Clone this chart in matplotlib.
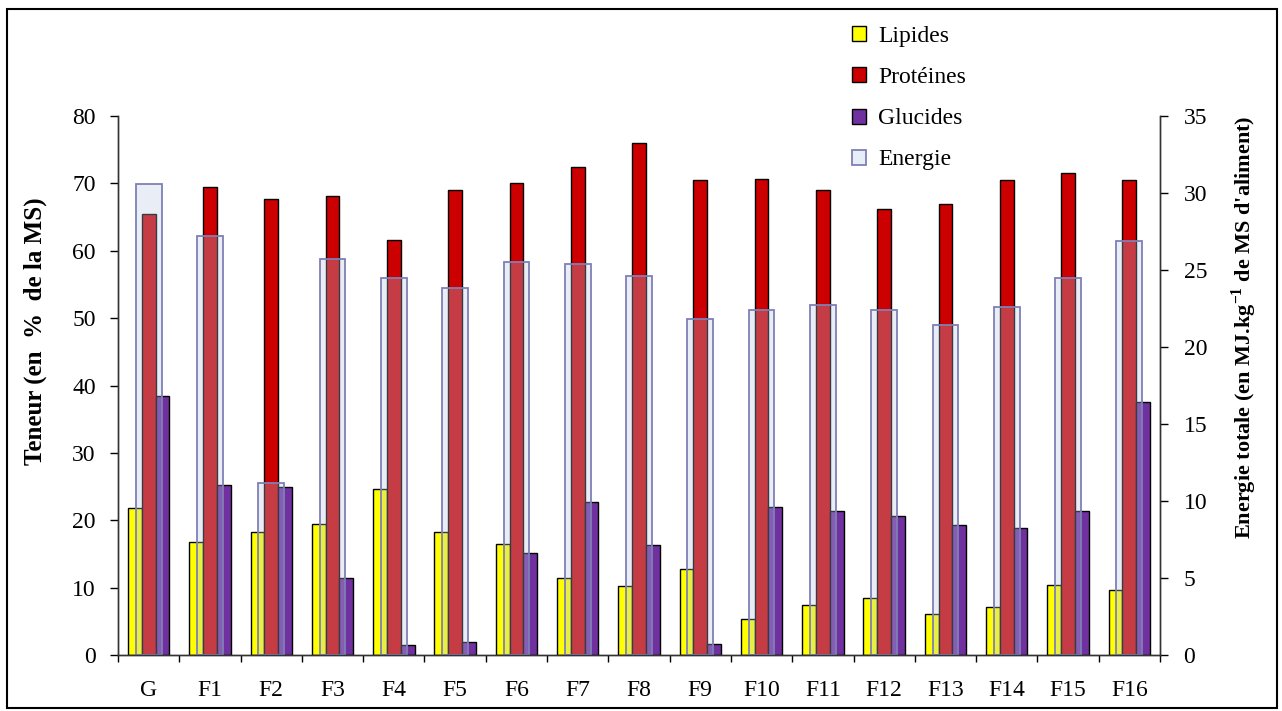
import numpy as np
import matplotlib
matplotlib.use("Agg")
import matplotlib.pyplot as plt
from matplotlib.patches import Rectangle, Patch

plt.rcParams['font.family'] = ['Liberation Serif', 'DejaVu Serif']
plt.rcParams['mathtext.fontset'] = 'custom'
plt.rcParams['mathtext.rm'] = 'Liberation Serif'
plt.rcParams['mathtext.bf'] = 'Liberation Serif:bold'

categories = ['G', 'F1', 'F2', 'F3', 'F4', 'F5', 'F6', 'F7', 'F8',
              'F9', 'F10', 'F11', 'F12', 'F13', 'F14', 'F15', 'F16']
lipides = [21.8, 16.7, 18.2, 19.5, 24.6, 18.2, 16.5, 11.5, 10.2,
           12.7, 5.3, 7.4, 8.4, 6.1, 7.1, 10.4, 9.7]
proteines = [65.4, 69.5, 67.7, 68.2, 61.6, 69.0, 70.1, 72.5, 76.0,
             70.5, 70.7, 69.0, 66.2, 66.9, 70.5, 71.6, 70.5]
glucides = [38.4, 25.3, 24.9, 11.5, 1.5, 2.0, 15.1, 22.7, 16.4,
            1.7, 22.0, 21.4, 20.6, 19.3, 18.9, 21.4, 37.5]
energie = [30.6, 27.2, 11.2, 25.7, 24.5, 23.8, 25.5, 25.4, 24.6,
           21.8, 22.4, 22.75, 22.4, 21.4, 22.6, 24.5, 26.9]

x = np.arange(len(categories))
w = 0.225
fs = 17

fig = plt.figure(figsize=(12.82, 7.11), dpi=100)
ax = fig.add_axes([118 / 1282, 56 / 711, (1160 - 118) / 1282, (655 - 116) / 711])

c_lip, c_pro, c_glu = '#FFFF00', '#CC0000', '#7030A0'
ax.bar(x - w, lipides, w, color=c_lip, edgecolor='black', linewidth=1)
ax.bar(x, proteines, w, color=c_pro, edgecolor='black', linewidth=1)
ax.bar(x + w, glucides, w, color=c_glu, edgecolor='black', linewidth=1)

ax.set_xlim(-0.5, len(categories) - 0.5)
ax.set_ylim(0, 80)
ax.set_yticks(range(0, 81, 10))
ax.set_xticks(x)
ax.set_xticklabels(categories)
ax.set_xticks(np.arange(-0.5, len(categories)), minor=True)
ax.tick_params(axis='x', which='major', length=0, pad=18, labelsize=fs)
ax.tick_params(axis='x', which='minor', length=5, width=1, direction='out')
ax.tick_params(axis='y', length=6, width=1, labelsize=fs, pad=10)
ax.spines['top'].set_visible(False)
ax.set_ylabel("Teneur (en  %  de la MS)", fontsize=18, fontweight='bold')
ax.yaxis.set_label_coords(-0.068, 0.60)

ax2 = ax.twinx()
e_face = (0.72, 0.78, 0.89, 0.3)
e_edge = '#7F7FB5'
ax2.bar(x, energie, 0.42, color=e_face, edgecolor=e_edge, linewidth=1.3)
ax2.set_ylim(0, 35)
ax2.set_yticks(range(0, 36, 5))
ax2.tick_params(axis='y', length=6, width=1, labelsize=fs, pad=11)
ax2.spines['top'].set_visible(False)
ax2.set_ylabel(r"Energie totale (en MJ.kg$^{\mathbf{-1}}$ de MS d'aliment)",
               fontsize=16, fontweight='bold')
ax2.yaxis.set_label_coords(1.067, 0.607)

for a in (ax, ax2):
    for s in a.spines.values():
        s.set_color('#333333')
        s.set_linewidth(1)

handles = [
    Patch(facecolor=c_lip, edgecolor='black', linewidth=1),
    Patch(facecolor=c_pro, edgecolor='black', linewidth=1),
    Patch(facecolor=c_glu, edgecolor='black', linewidth=1),
    Patch(facecolor='#E8EEF8', edgecolor=e_edge, linewidth=1.3),
]
fig.legend(handles, ['Lipides', 'Protéines', 'Glucides', 'Energie'],
           loc='upper left', bbox_to_anchor=(831 / 1282, 1 - 5 / 711),
           frameon=False, fontsize=fs, handlelength=0.6, handleheight=0.6,
           handletextpad=0.5, labelspacing=0.85)

fig.patches.append(Rectangle((7 / 1282, 3 / 711), 1270 / 1282, 699 / 711,
                             transform=fig.transFigure, fill=False,
                             edgecolor='black', linewidth=1.5))

fig.savefig('out.png', dpi=100)
